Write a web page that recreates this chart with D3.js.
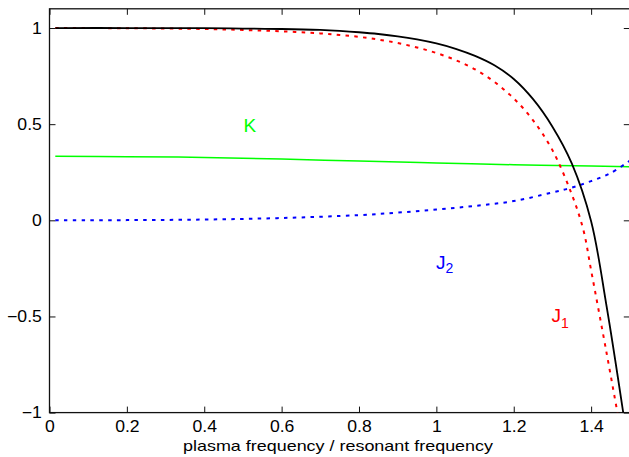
<!DOCTYPE html>
<html><head><meta charset="utf-8">
<script src="https://cdn.jsdelivr.net/npm/d3@7"></script>
<style>html,body{margin:0;padding:0;background:#fff;overflow:hidden}</style>
</head><body>
<svg id="c" width="629" height="457"></svg>
<script>
// x values: plasma frequency / resonant frequency
const xTicks = [0, 0.2, 0.4, 0.6, 0.8, 1, 1.2, 1.4];
const yTicks = [-1, -0.5, 0, 0.5, 1];
const xLabel = "plasma frequency / resonant frequency";

// black solid curve
const blackX = [0.015, 0.2, 0.4, 0.5, 0.6, 0.7, 0.75, 0.8, 0.85, 0.9, 0.95, 1.0, 1.05, 1.1, 1.15, 1.2, 1.25, 1.3, 1.35, 1.4, 1.44, 1.483];
const blackY = [1, 1, 0.999, 0.997, 0.995, 0.99, 0.985, 0.978, 0.969, 0.957, 0.941, 0.92, 0.892, 0.855, 0.806, 0.735, 0.63, 0.487, 0.296, -0.005, -0.447, -1];
// J1 (red dotted)
const j1X = [0.015, 0.2, 0.4, 0.5, 0.6, 0.7, 0.75, 0.8, 0.85, 0.9, 0.95, 1.0, 1.05, 1.1, 1.15, 1.2, 1.25, 1.3, 1.35, 1.38, 1.4, 1.44, 1.468];
const j1Y = [1, 0.999, 0.995, 0.99, 0.983, 0.972, 0.964, 0.954, 0.94, 0.922, 0.899, 0.87, 0.833, 0.785, 0.72, 0.634, 0.52, 0.365, 0.135, -0.05, -0.26, -0.69, -1];
// J2 (blue dotted)
const j2X = [0.015, 0.2, 0.4, 0.6, 0.8, 0.9, 1.0, 1.1, 1.2, 1.3, 1.35, 1.4, 1.45, 1.5];
const j2Y = [0, 0.001, 0.004, 0.012, 0.027, 0.04, 0.056, 0.075, 0.1, 0.145, 0.17, 0.204, 0.245, 0.31];
// K (green solid)
const kX = [0.015, 0.2, 0.4, 0.6, 0.8, 1.0, 1.2, 1.4, 1.5];
const kY = [0.333, 0.331, 0.327, 0.319, 0.308, 0.298, 0.289, 0.282, 0.279];

const svg = d3.select("#c");
const L = 49.5, R = 629.8, T = 8.8, B = 412.6;
const x = d3.scaleLinear().domain([0, 1.5]).range([L, R]);
const y = d3.scaleLinear().domain([-1, 1.1]).range([B, T]);

svg.append("defs").append("clipPath").attr("id", "clip")
  .append("rect").attr("x", L).attr("y", T).attr("width", R - L).attr("height", B - T);

const font = "'Liberation Sans', Arial, Helvetica, sans-serif";

// axes box
const axColor = "#111";
svg.append("rect").attr("x", L).attr("y", T).attr("width", R - L).attr("height", B - T)
  .attr("fill", "none").attr("stroke", axColor).attr("stroke-width", 1.3);

// axes with inward ticks
const fmt = v => (v < 0 ? "\u2212" + Math.abs(v) : String(v));
const gx = svg.append("g").attr("transform", `translate(0,${B})`)
  .call(d3.axisBottom(x).tickValues(xTicks).tickSize(-6).tickPadding(8.5).tickFormat(fmt));
const gxt = svg.append("g").attr("transform", `translate(0,${T})`)
  .call(d3.axisTop(x).tickValues(xTicks).tickSize(-6).tickFormat(""));
const gy = svg.append("g").attr("transform", `translate(${L},0)`)
  .call(d3.axisLeft(y).tickValues(yTicks).tickSize(-6).tickPadding(7).tickFormat(fmt));
const gyr = svg.append("g").attr("transform", `translate(${R},0)`)
  .call(d3.axisRight(y).tickValues(yTicks).tickSize(-6).tickFormat(""));
[gx, gxt, gy, gyr].forEach(g => {
  g.select(".domain").remove();
  g.selectAll(".tick line").attr("stroke", axColor).attr("stroke-width", 1);
  g.selectAll("text").attr("fill", "#000").style("font-family", font).style("font-size", "16px");
});
gx.selectAll(".tick text").attr("x", 0).attr("dy", "0.71em").attr("transform", "scale(1.1,1)");
gy.selectAll(".tick text").attr("transform", "scale(1.1,1)");

// curves
const line = d3.line().x(d => x(d[0])).y(d => y(d[1])).curve(d3.curveCatmullRom.alpha(0.5));
const zip = (a, b) => a.map((v, i) => [v, b[i]]);
const plot = svg.append("g").attr("clip-path", "url(#clip)");
plot.append("path").datum(zip(kX, kY)).attr("d", line)
  .attr("fill", "none").attr("stroke", "#00ff00").attr("stroke-width", 1.5);
plot.append("path").datum(zip(j2X, j2Y)).attr("d", line)
  .attr("fill", "none").attr("stroke", "#0000ff").attr("stroke-width", 2).attr("stroke-dasharray", "3.5 5.3");
plot.append("path").datum(zip(j1X, j1Y)).attr("d", line)
  .attr("fill", "none").attr("stroke", "#ff0000").attr("stroke-width", 2).attr("stroke-dasharray", "3.5 5.3");
plot.append("path").datum(zip(blackX, blackY)).attr("d", line)
  .attr("fill", "none").attr("stroke", "#000").attr("stroke-width", 1.8);

// x axis label
svg.append("text").attr("x", 338).attr("y", 451).attr("text-anchor", "middle")
  .style("font-family", font).style("font-size", "15px")
  .attr("textLength", 310).attr("lengthAdjust", "spacingAndGlyphs")
  .text(xLabel);

// curve labels
svg.append("text").attr("x", 243.5).attr("y", 132).attr("fill", "#00ff00")
  .style("font-family", font).style("font-size", "19px").text("K");
const j2 = svg.append("text").attr("x", 436).attr("y", 269).attr("fill", "#0000ff")
  .style("font-family", font).style("font-size", "19px");
j2.append("tspan").text("J");
j2.append("tspan").attr("dy", 4).style("font-size", "14px").text("2");
const j1 = svg.append("text").attr("x", 551.5).attr("y", 322).attr("fill", "#ff0000")
  .style("font-family", font).style("font-size", "19px");
j1.append("tspan").text("J");
j1.append("tspan").attr("dy", 6).style("font-size", "14px").text("1");
</script>
</body></html>
